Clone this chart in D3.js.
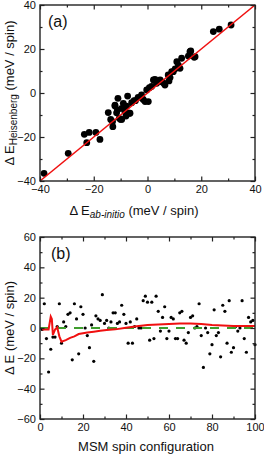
<!DOCTYPE html>
<meta charset="utf-8">
<style>
    body { margin: 0; background: #fff; }
    text { font-family: "Liberation Sans", Arial, sans-serif; fill: #111; }
    .tick text { font-size: 11px; }
</style>
<body>
<script src="https://cdn.jsdelivr.net/npm/d3@7"></script>
<script>

    // panel (a): ab-initio vs Heisenberg energies
    var abInitio = [-38.5,-29.5,-23.5,-21.7,-22.6,-19.2,-17.7,-14.6,-13.7,-12.9,-12.1,-11.2,-10.5,-9.6,-6.8,-12.1,-9.6,-9,-8.4,-7.4,-6.5,-5.9,-11,-10,-2.2,-1.6,-0.9,0.3,-0.3,0.7,2.2,3.4,4.7,5.3,6.5,7.7,8.4,9,9.6,10.3,10.9,11.5,12.1,12.7,15.2,15.8,16.1,17.4,17.7,24.5,26.7,31.1,-3.5,-4.5,1.5,2.8,6,8,-8,-13,-11.5,-7.8,-5];
    var heisenberg = [-36.5,-27.4,-18.8,-17.9,-22.6,-17.9,-21.1,-8.9,-12,-15.3,-5.9,-7.7,-11.5,-12,-9.2,-5.5,-7,-4.7,-8.5,-1.4,-9.2,-4.4,-2.4,-12,-0.9,-2.9,-3.9,-3.9,1.4,2.4,5.9,4.4,5.9,5.1,3.6,8.2,7,9.7,9.7,11,14.2,12.7,11.2,15.8,16.8,18.8,19.1,16.2,16.5,27.9,29,30.9,-2,-3.5,3,6.2,4.5,5.5,-10.5,-13,-9,-6,-3.5];
    var fitLine = [-40, 40];

    // panel (b): deviation per MSM spin configuration (1..100)
    var deltaE = [-1,16,-7,-29,-14,-6,-6,1,16,-10,4,1,9,10,-21,16,6,-17,14,9,0,-5,-13,2,-22,8,6,5,22,3,5,0,4,10,10,3,4,15,9,3,-10,4,-10,1,6,0,0,18,21,17,-8,17,-7,21,11,-2,7,14,-7,-2,7,6,-7,-7,10,11,-8,-10,-3,7,8,0,1,16,-5,-26,0,-3,-17,-11,12,-5,-3,-19,15,11,-10,18,-16,-13,1,-2,0,18,-7,-16,7,4,5,-11];
    var runX = [1,3,4,5,5.5,6,7,8,9,10,12,14,16,18,20,22,25,28,31,35,40,45,50,55,60,65,70,75,80,85,90,95,100];
    var runY = [-1,-1,-1,7.5,6,-4.5,-1,0.5,-5.5,-9,-8,-6.5,-5.5,-4,-3.5,-3,-2.4,-1.8,-1.3,-0.9,0.2,1.2,2,2.3,2.6,3,3,2.6,2,1.6,1.3,1.3,1.3];
    var zeroLine = [0, 100];

    var ticksA = [-40,-20,0,20,40], minorA = [-30,-10,10,30];
    var ticksBx = [0,20,40,60,80,100], minorBx = [10,30,50,70,90];
    var ticksBy = [-60,-40,-20,0,20,40,60], minorBy = [-50,-30,-10,10,30,50];

    var svg = d3.select("body").append("svg")
        .attr("width", 264)
        .attr("height", 454);

    function frame(x, y, tx, mx, ty, my) {
        var g = svg.append("g");
        var x0 = x.range()[0], x1 = x.range()[1], y0 = y.range()[0], y1 = y.range()[1];

        function ax(gen, tr, vals, size, labels) {
            var a = g.append("g").attr("transform", tr)
                .call(gen.tickValues(vals).tickSizeInner(-size).tickSizeOuter(0).tickPadding(4)
                    .tickFormat(labels ? d3.format("d") : ""));
            a.select(".domain").remove();
            a.selectAll("line").attr("stroke", "#222").attr("stroke-width", 1.2);
            return a;
        }
        ax(d3.axisBottom(x), "translate(0," + y0 + ")", tx, 4.5, true);
        ax(d3.axisBottom(x), "translate(0," + y0 + ")", mx, 2.5, false);
        ax(d3.axisTop(x), "translate(0," + y1 + ")", tx, 4.5, false);
        ax(d3.axisTop(x), "translate(0," + y1 + ")", mx, 2.5, false);
        ax(d3.axisLeft(y), "translate(" + x0 + ",0)", ty, 4.5, true);
        ax(d3.axisLeft(y), "translate(" + x0 + ",0)", my, 2.5, false);
        ax(d3.axisRight(y), "translate(" + x1 + ",0)", ty, 4.5, false);
        ax(d3.axisRight(y), "translate(" + x1 + ",0)", my, 2.5, false);

        g.append("rect")
            .attr("x", x0).attr("y", y1)
            .attr("width", x1 - x0).attr("height", y0 - y1)
            .attr("fill", "none").attr("stroke", "#222").attr("stroke-width", 1.4);
        return g;
    }

    // ---- panel (a)
    var xA = d3.scaleLinear().domain([-40, 40]).range([40, 255]);
    var yA = d3.scaleLinear().domain([-40, 40]).range([181, 5]);

    var clipA = svg.append("clipPath").attr("id", "clipA")
        .append("rect").attr("x", 40).attr("y", 5).attr("width", 215).attr("height", 176);

    svg.append("g").selectAll("circle")
        .data(abInitio)
        .enter().append("circle")
        .attr("cx", function(d) { return xA(d); })
        .attr("cy", function(d, i) { return yA(heisenberg[i]); })
        .attr("r", 3.4)
        .attr("fill", "#000");

    svg.append("path")
        .datum(fitLine)
        .attr("d", d3.line().x(function(d) { return xA(d); }).y(function(d) { return yA(d); }))
        .attr("stroke", "#f01010").attr("stroke-width", 1.6).attr("fill", "none");

    frame(xA, yA, ticksA, minorA, ticksA, minorA);

    svg.append("text").attr("x", 48).attr("y", 27).style("font-size", "16px").text("(a)");

    var xlA = svg.append("text").attr("x", 134).attr("y", 215)
        .attr("text-anchor", "middle").style("font-size", "13px");
    xlA.append("tspan").text("Δ E");
    xlA.append("tspan").attr("dy", 3).style("font-size", "10px").style("font-style", "italic").text("ab-initio");
    xlA.append("tspan").attr("dy", -3).text(" (meV / spin)");

    var ylA = svg.append("text").attr("transform", "translate(14,93) rotate(-90)")
        .attr("text-anchor", "middle").style("font-size", "13px");
    ylA.append("tspan").text("Δ E");
    ylA.append("tspan").attr("dy", 3).style("font-size", "10px").text("Heisenberg");
    ylA.append("tspan").attr("dy", -3).text(" (meV / spin)");

    // ---- panel (b)
    var xB = d3.scaleLinear().domain([0, 100]).range([40, 255]);
    var yB = d3.scaleLinear().domain([-60, 60]).range([419, 237]);

    svg.append("g").selectAll("circle")
        .data(deltaE)
        .enter().append("circle")
        .attr("cx", function(d, i) { return xB(i + 1); })
        .attr("cy", function(d) { return yB(d); })
        .attr("r", 1.6)
        .attr("fill", "#000");

    svg.append("path")
        .datum(zeroLine)
        .attr("d", d3.line().x(function(d) { return xB(d); }).y(function() { return yB(0); }))
        .attr("stroke", "#3f9e2e").attr("stroke-width", 2.2)
        .attr("stroke-dasharray", "9,8").attr("fill", "none");

    svg.append("path")
        .datum(runX)
        .attr("d", d3.line().x(function(d) { return xB(d); }).y(function(d, i) { return yB(runY[i]); }))
        .attr("stroke", "#f01010").attr("stroke-width", 2).attr("fill", "none");

    frame(xB, yB, ticksBx, minorBx, ticksBy, minorBy);

    svg.append("text").attr("x", 51).attr("y", 259).style("font-size", "16px").text("(b)");

    svg.append("text").attr("x", 146).attr("y", 451)
        .attr("text-anchor", "middle").style("font-size", "13px").text("MSM spin configuration");

    svg.append("text").attr("transform", "translate(14,328) rotate(-90)")
        .attr("text-anchor", "middle").style("font-size", "13px").text("Δ E (meV / spin)");

</script>
